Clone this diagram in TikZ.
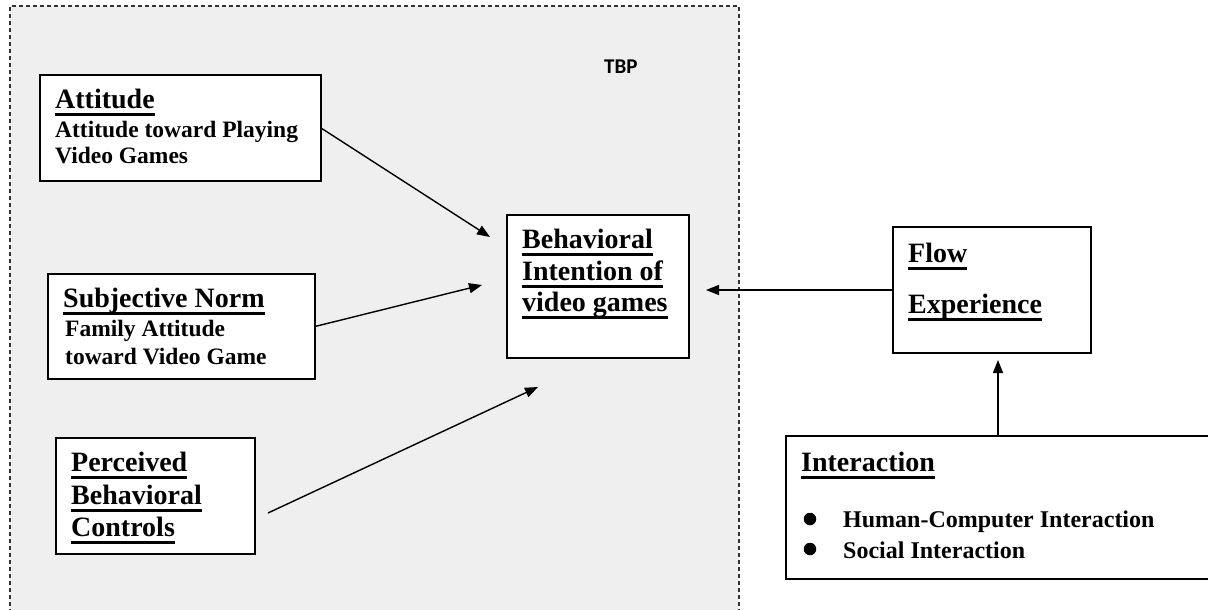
\documentclass[tikz,border=0pt]{standalone}
\usepackage{fontspec}
\setmainfont{Liberation Serif}
\newfontfamily\tbpfont{Carlito}
\usetikzlibrary{arrows.meta}
\newcommand\ulx[1]{\setbox0\hbox{#1}\rlap{\rule[-7.5pt]{\wd0}{3pt}}\box0}
\definecolor{tbpgray}{HTML}{EFEFEF}
\begin{document}
\begin{tikzpicture}[x=1pt,y=-1pt,
  box/.style={draw=black, line width=2.8pt, fill=white, inner sep=0pt, outer sep=0pt},
  ttl/.style={anchor=base west, inner sep=0pt, font=\bfseries\fontsize{28}{30}\selectfont},
  subtxt/.style={anchor=base west, inner sep=0pt, font=\bfseries\fontsize{23.5}{26}\selectfont},
  bultxt/.style={anchor=base west, inner sep=0pt, font=\bfseries\fontsize{24}{26}\selectfont},
  bul/.style={circle, fill=black, inner sep=0pt, minimum size=12.5pt},
  arr/.style={line width=1.4pt, -{Triangle[length=13pt,width=10pt]}},
]
\useasboundingbox (0,0) rectangle (1208,610);
\clip (0,0) rectangle (1208,610);
% TBP region
\fill[tbpgray] (10,6) rectangle (739,620);
\draw[gray!40!black, line width=1.1pt, dash pattern=on 4pt off 3pt] (10,620) -- (10,6) -- (739,6) -- (739,620);
\node[anchor=base west, inner sep=0pt, font=\tbpfont\bfseries\fontsize{21}{23}\selectfont] (tbp) at (604,74) {TBP};

% boxes
\node[box, minimum width=281pt, minimum height=106pt] (att) at (180.5,128) {};
\node[box, minimum width=267pt, minimum height=105pt] (sn) at (181.5,326.5) {};
\node[box, minimum width=199pt, minimum height=116pt] (pbc) at (155.5,496) {};
\node[box, minimum width=182pt, minimum height=143pt] (bi) at (598,286.5) {};
\node[box, minimum width=198pt, minimum height=126pt] (flow) at (992,290) {};
\node[box, minimum width=429pt, minimum height=143pt] (inter) at (1000.5,507.5) {};

% texts
\node[ttl] (attT) at (55,108) {\ulx{Attitude}};
\node[subtxt] (attS1) at (55,137) {Attitude toward Playing};
\node[subtxt] (attS2) at (55,163) {Video Games};

\node[ttl] (snT) at (63,307) {\ulx{Subjective Norm}};
\node[subtxt] (snS1) at (65,336) {Family Attitude};
\node[subtxt] (snS2) at (65,364) {toward Video Game};

\node[ttl] (pbcT1) at (71,471) {\ulx{Perceived}};
\node[ttl] (pbcT2) at (71,504) {\ulx{Behavioral}};
\node[ttl] (pbcT3) at (71,536) {\ulx{Controls}};

\node[ttl] (biT1) at (522,248) {\ulx{Behavioral}};
\node[ttl] (biT2) at (522,280) {\ulx{Intention of}};
\node[ttl] (biT3) at (522,311) {\ulx{video games}};

\node[ttl] (flT1) at (908,262) {\ulx{Flow}};
\node[ttl] (flT2) at (908,313) {\ulx{Experience}};

\node[ttl] (inT) at (801,471) {\ulx{Interaction}};
\node[bul] (b1) at (810,519) {};
\node[bul] (b2) at (810,549) {};
\node[bultxt] (inS1) at (843,527) {Human-Computer Interaction};
\node[bultxt] (inS2) at (843,558) {Social Interaction};

% connector ends
\coordinate (e1) at (490,237);
\coordinate (e2) at (482,285);
\coordinate (s3) at (268,513);
\coordinate (e3) at (538,387);
\coordinate (e4) at (706,290);
\coordinate (s5) at (998,436);
\coordinate (e5) at (998,360);

\draw[arr] (att.east) -- (e1);
\draw[arr] (sn.east) -- (e2);
\draw[arr] (s3) -- (e3);
\draw[arr] (flow.west) -- (e4);
\draw[arr] (s5) -- (e5);
\end{tikzpicture}
\end{document}
